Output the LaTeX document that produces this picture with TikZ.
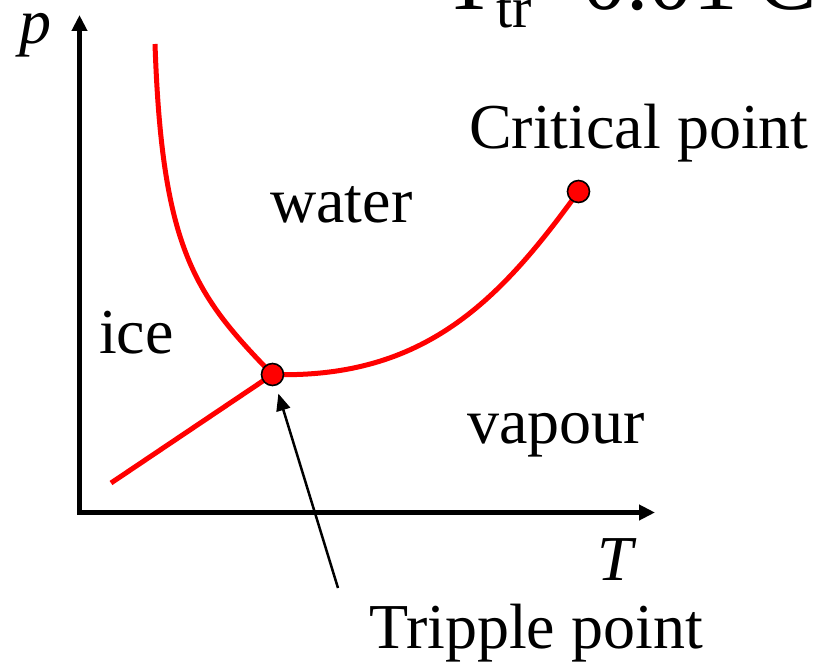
\documentclass[tikz,border=0pt]{standalone}
\usepackage{fontspec}
\setmainfont{Liberation Serif}
\usetikzlibrary{arrows.meta}
\definecolor{curvered}{RGB}{255,0,0}
\tikzset{
  axisline/.style={line width=5pt, line join=miter},
  phaseline/.style={line width=5pt, draw=curvered},
  pointdot/.style={circle, fill=curvered, draw=black, line width=1.6pt, minimum size=22pt, inner sep=0pt, outer sep=0pt},
  lbl/.style={anchor=base west, inner sep=0pt, font=\fontsize{64}{70}\selectfont},
  pointer/.style={line width=2.5pt, -{Triangle[length=17pt,width=14pt]}}
}
\begin{document}
\begin{tikzpicture}[x=1pt,y=-1pt]
\useasboundingbox (0,0) rectangle (816,661);
\clip (0,0) rectangle (816,661);
% coordinates
\coordinate (tpc) at (272.5,374.5);
\coordinate (cpc) at (578.5,191.5);
\coordinate (meltend) at (155,44);
\coordinate (subend) at (111,483);
\coordinate (arrtail) at (338,588);
\coordinate (yaxtip) at (79.5,15);
\coordinate (origin) at (79.5,512.5);
\coordinate (xaxtip) at (655,512.5);
% axes
\draw[axisline, {Triangle[length=16pt,width=15pt]}-{Triangle[length=16pt,width=15pt]}] (yaxtip) -- (origin) -- (xaxtip);
% phase lines
\draw[phaseline] (subend) -- (tpc);
\draw[phaseline] (meltend) .. controls (162,250) and (195,295) .. (tpc);
\draw[phaseline] (tpc) .. controls (425,379) and (500,300) .. (cpc);
% points
\node[pointdot] (tp) at (tpc) {};
\node[pointdot] (cp) at (cpc) {};
% pointer
\draw[pointer, shorten >=9pt] (arrtail) -- (tp);
% labels
\node[lbl] (plabel) at (19,44) {\textit{p}};
\node[lbl] (tlabel) at (597,580) {\textit{T}};
\node[lbl] (water) at (270,222) {water};
\node[lbl] (ice) at (99,353) {ice};
\node[lbl] (vapour) at (467,443) {vapour};
\node[lbl] (critical) at (469,148) {Critical point};
\node[lbl] (tripple) at (369,648) {Tripple point};
\node[anchor=base west, inner sep=0pt, font=\fontsize{89}{95}\selectfont] (ttr) at (442,10)
  {T\raisebox{-18pt}{\fontsize{58}{60}\selectfont tr}=0.01{\fontsize{50}{50}\selectfont °}C};
\end{tikzpicture}
\end{document}
